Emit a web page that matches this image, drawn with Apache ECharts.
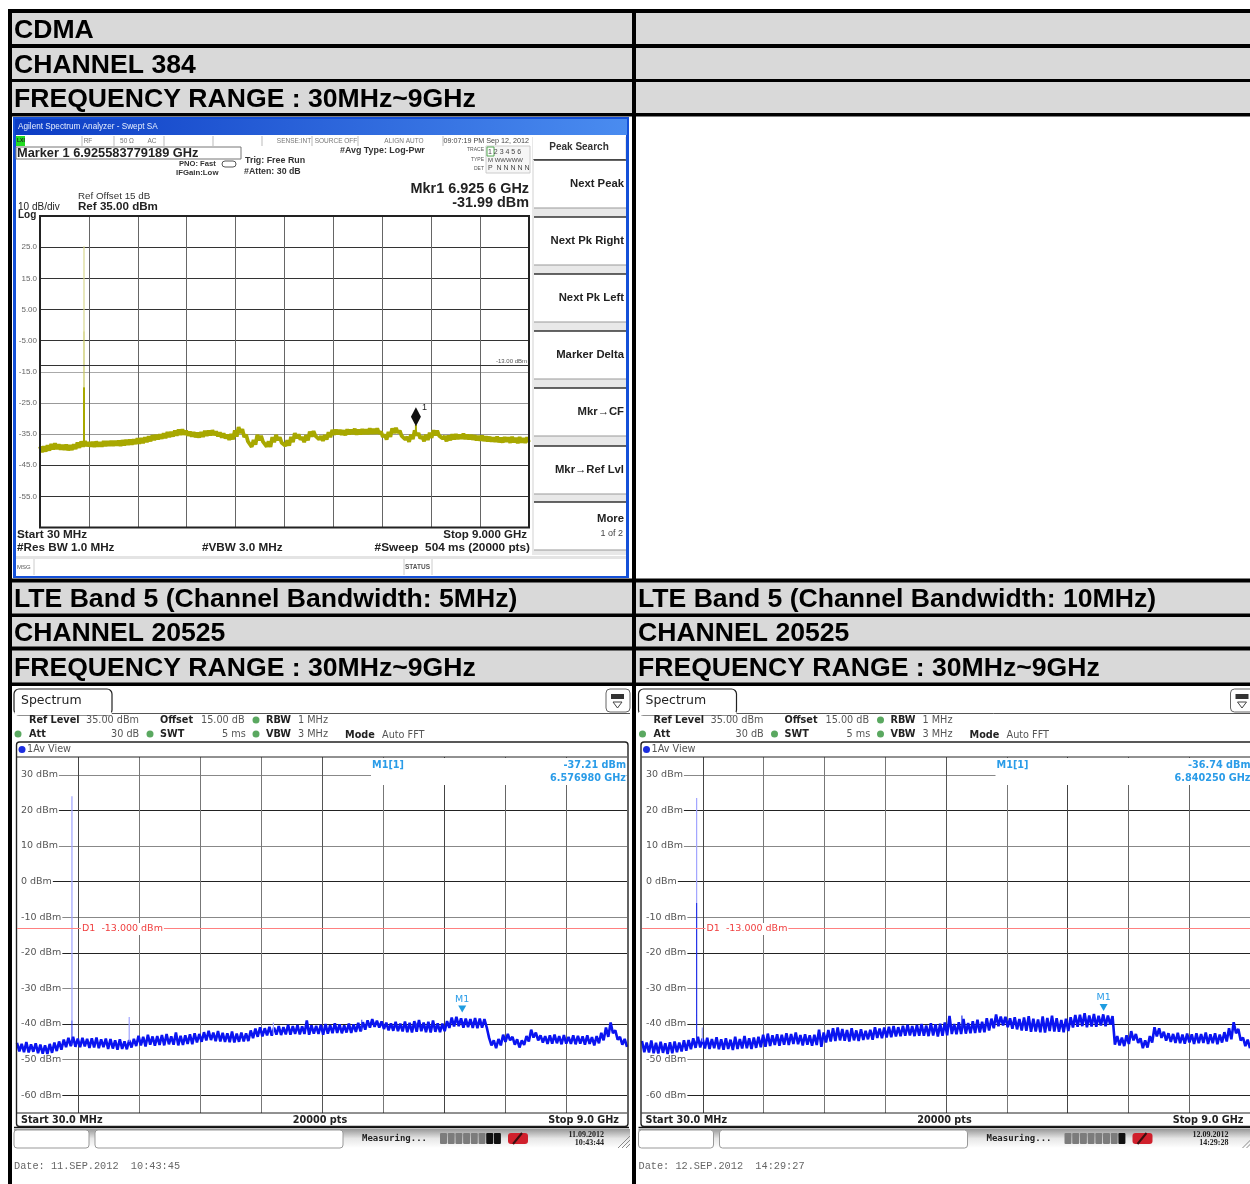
<!DOCTYPE html>
<html><head><meta charset="utf-8">
<style>html,body{margin:0;padding:0;background:#fff;overflow:hidden}#c{width:1250px;height:1184px}</style>
<script src="https://cdn.jsdelivr.net/npm/echarts@6/dist/echarts.min.js"></script>
</head><body><div id="c"></div>
<script>
// ---------- chart data (GHz / dBm) ----------
const sweepStartGHz = 0.03, sweepStopGHz = 9.0;

const cdmaTrace = [
-39.0,-40.8,-38.9,-40.6,-38.6,-40.3,-38.2,-39.9,-38.0,-39.8,-38.3,-40.0,-38.5,-40.1,-38.4,-40.2,-38.6,-40.1,-38.3,-39.8,
-37.7,-39.4,-37.4,-39.0,-37.3,-38.9,-37.6,-39.0,-37.5,-39.1,-37.4,-39.0,-37.6,-39.0,-37.3,-38.9,-37.3,-38.8,-37.2,-38.8,
-37.2,-38.7,-37.1,-38.8,-37.0,-38.6,-36.9,-38.5,-36.8,-38.4,-36.7,-38.2,-36.4,-38.1,-36.3,-37.9,-36.1,-37.6,-35.7,-37.3,
-35.4,-36.9,-35.3,-36.7,-35.1,-36.5,-34.8,-36.3,-34.4,-36.0,-34.3,-35.8,-33.9,-35.5,-33.6,-35.3,-33.5,-35.2,-33.9,-35.5,
-34.2,-35.8,-34.4,-36.0,-34.6,-36.1,-34.4,-35.9,-34.0,-35.6,-33.9,-35.4,-33.8,-35.3,-34.2,-35.7,-34.5,-36.1,-34.8,-36.4,
-35.2,-36.9,-35.0,-36.7,-33.8,-35.8,-32.8,-34.6,-33.4,-36.0,-35.2,-37.4,-37.4,-39.1,-36.9,-38.4,-35.3,-37.0,-35.6,-37.4,
-37.2,-39.0,-37.4,-39.1,-36.0,-37.6,-35.3,-36.9,-36.1,-37.8,-37.2,-38.8,-37.0,-38.7,-35.9,-37.6,-34.7,-36.3,-35.1,-36.8,
-36.0,-37.6,-35.4,-37.0,-34.2,-35.8,-34.1,-35.6,-35.0,-36.7,-35.7,-37.2,-35.3,-36.8,-34.4,-36.0,-33.7,-35.2,-33.6,-35.1,
-33.7,-35.2,-33.8,-35.4,-33.5,-35.1,-33.6,-35.0,-33.3,-35.2,-33.6,-35.1,-33.4,-35.0,-33.5,-35.0,-33.2,-34.9,-33.4,-34.9,
-33.2,-34.9,-34.2,-35.9,-35.2,-36.8,-34.3,-35.9,-33.2,-34.7,-33.0,-34.6,-33.9,-35.6,-35.1,-36.7,-35.9,-37.5,-35.2,-36.6,
-33.8,-35.4,-34.7,-36.4,-35.7,-37.3,-35.2,-36.9,-34.6,-36.2,-33.8,-35.4,-33.9,-35.5,-34.9,-36.4,-35.7,-37.3,-35.5,-37.0,
-35.1,-36.7,-35.0,-36.6,-35.2,-36.5,-34.9,-36.6,-35.2,-36.7,-35.3,-36.8,-35.4,-37.0,-35.6,-37.1,-35.5,-37.2,-35.8,-37.3,
-35.9,-37.4,-36.1,-37.5,-35.8,-37.6,-36.2,-37.7,-36.0,-37.5,-36.1,-37.8,-35.9,-37.6,-36.2,-37.9,-36.0,-37.7,-36.3,-37.8,-36.1,-37.6];

const lte5Trace = [
-45.3,-47.7,-45.6,-47.9,-45.1,-48.0,-45.7,-47.8,-45.4,-48.2,-45.8,-48.3,-46.0,-48.4,-45.6,-48.1,-45.2,-47.6,-44.9,-47.2,
-44.4,-46.5,-43.9,-46.2,-43.6,-46.4,-44.1,-46.5,-43.9,-46.3,-44.2,-46.7,-44.0,-46.6,-43.8,-46.8,-44.3,-46.5,-44.1,-47.0,
-44.2,-46.9,-44.6,-47.2,-44.3,-47.0,-44.9,-47.1,-44.5,-46.6,-44.2,-46.2,-43.3,-46.0,-43.6,-46.3,-43.0,-45.8,-43.5,-46.1,
-43.4,-45.9,-43.1,-46.0,-42.8,-45.7,-43.5,-45.8,-42.4,-46.0,-43.3,-45.9,-43.2,-45.6,-42.9,-45.7,-42.6,-45.2,-42.8,-45.0,
-42.3,-44.6,-41.9,-44.5,-42.4,-44.8,-42.0,-44.9,-42.5,-45.0,-42.6,-45.1,-42.1,-45.2,-42.7,-45.0,-42.4,-44.9,-42.6,-44.8,
-41.8,-44.0,-41.3,-43.6,-40.9,-43.5,-41.2,-43.2,-40.8,-43.3,-41.0,-43.0,-40.6,-43.1,-40.9,-42.9,-40.2,-43.0,-40.6,-42.8,
-40.3,-42.9,-40.7,-42.8,-39.0,-43.0,-40.4,-42.7,-40.5,-42.8,-40.2,-43.0,-40.0,-42.7,-40.3,-42.6,-39.8,-42.5,-40.1,-42.6,
-40.4,-42.4,-39.9,-42.5,-40.1,-42.2,-39.7,-42.1,-39.5,-41.6,-39.0,-41.0,-38.6,-40.8,-39.1,-41.0,-39.3,-41.4,-39.6,-41.8,
-39.8,-41.9,-39.4,-42.0,-39.9,-42.1,-39.3,-42.3,-39.7,-42.4,-39.2,-42.2,-38.9,-42.0,-39.6,-42.3,-39.4,-42.4,-39.0,-42.2,
-39.8,-42.3,-39.9,-42.0,-39.2,-41.1,-38.2,-40.7,-38.0,-40.6,-38.4,-41.0,-38.5,-40.9,-38.6,-41.1,-38.3,-41.2,-38.5,-41.0,
-38.6,-41.0,-43.9,-46.0,-44.6,-46.8,-44.2,-46.0,-43.0,-45.0,-42.8,-44.6,-43.6,-45.8,-44.3,-46.6,-44.6,-45.9,-43.4,-44.9,
-41.6,-43.8,-42.4,-44.6,-43.2,-45.2,-43.4,-45.6,-43.2,-45.5,-43.0,-45.4,-43.4,-45.7,-43.1,-45.5,-43.6,-45.6,-43.2,-45.7,
-43.3,-45.5,-43.5,-45.8,-43.2,-45.6,-43.7,-46.0,-43.4,-45.4,-42.5,-44.6,-41.0,-43.6,-39.6,-42.6,-41.8,-44.4,-43.6,-45.8,-44.2,-46.4];

const lte10Trace = [
-44.8,-47.9,-45.2,-48.0,-44.6,-48.2,-45.3,-48.3,-45.0,-48.1,-45.4,-48.4,-45.1,-48.2,-44.9,-47.9,-45.2,-47.7,-44.6,-47.5,
-44.5,-47.1,-44.0,-46.7,-43.6,-46.6,-44.1,-46.9,-43.9,-47.0,-44.2,-46.8,-43.7,-47.1,-44.3,-47.2,-44.0,-47.0,-44.4,-47.3,
-43.6,-47.0,-44.2,-46.9,-43.4,-46.8,-44.0,-47.0,-43.8,-46.7,-43.6,-46.5,-43.0,-46.4,-42.7,-46.2,-43.2,-45.9,-42.9,-46.1,
-43.0,-45.8,-42.6,-45.9,-42.8,-45.6,-42.4,-45.7,-43.1,-46.0,-42.9,-45.8,-43.2,-46.1,-43.0,-45.9,-41.6,-46.4,-42.4,-45.2,
-41.7,-44.9,-41.2,-44.8,-41.0,-44.6,-41.4,-44.7,-41.7,-44.9,-41.2,-44.6,-41.8,-44.8,-41.5,-44.5,-41.9,-44.3,-41.6,-44.4,
-40.9,-43.9,-41.3,-44.0,-41.0,-43.8,-40.8,-43.7,-40.6,-43.5,-40.9,-43.4,-40.5,-43.3,-40.2,-43.2,-40.6,-43.4,-40.3,-43.3,
-40.0,-43.3,-40.4,-43.4,-39.8,-43.2,-40.1,-43.5,-39.9,-43.3,-39.6,-43.2,-37.7,-42.8,-40.0,-42.9,-39.5,-42.8,-38.6,-42.7,
-39.7,-42.6,-39.2,-42.5,-38.8,-42.4,-39.4,-42.3,-38.4,-41.8,-38.5,-41.2,-37.3,-40.6,-37.9,-40.4,-38.0,-40.9,-38.4,-41.3,
-38.1,-41.5,-38.6,-41.8,-38.2,-41.9,-37.8,-42.2,-38.5,-42.1,-38.7,-42.3,-37.9,-42.4,-38.3,-42.0,-37.7,-42.1,-38.4,-42.2,
-38.9,-42.3,-38.5,-42.0,-38.1,-41.0,-37.5,-40.8,-37.4,-40.6,-37.0,-40.9,-37.6,-40.7,-37.2,-40.8,-37.7,-40.4,-37.3,-40.6,
-37.6,-40.2,-37.8,-45.8,-43.4,-46.0,-43.8,-46.2,-43.2,-45.6,-42.0,-44.6,-42.8,-45.3,-44.0,-46.8,-44.6,-46.6,-43.4,-45.2,
-40.9,-43.5,-41.2,-43.9,-42.2,-44.7,-42.6,-45.0,-42.8,-45.3,-42.5,-45.4,-43.0,-45.5,-42.7,-45.2,-42.9,-45.6,-42.6,-45.4,
-42.8,-45.3,-42.4,-45.6,-42.9,-45.4,-42.6,-45.7,-43.0,-45.2,-42.3,-44.9,-41.2,-44.3,-39.5,-42.6,-41.4,-44.6,-43.8,-46.2,-44.4,-46.8];

// spikes: [frequency, low, high]
const cdmaCarrierPale  = [[0.837, -2, 25.3]];
const cdmaCarrierMid   = [[0.837, -20, -2]];
const cdmaCarrierBase  = [[0.837, -38, -20], [6.9256, -35, -31.99]];
const lte5CarrierPale  = [[0.838, -39, 24], [1.68, -45, -38], [3.8, -43, -39.6]];
const lte5CarrierBase  = [[0.838, -46, -39], [5.1, -42, -38.8], [5.9, -41, -39.6]];
const lte10CarrierPale = [[0.836, -6, 23.5], [0.92, -45, -41]];
const lte10CarrierBase = [[0.836, -45, -6], [4.75, -41, -37.6]];

const cdmaMarker  = [6.9256, -31.99];
const lte5Marker  = [6.57698, -37.21];
const lte10Marker = [6.84025, -36.74];
const displayLine = -13;

const freqDivisions = [0.927,1.824,2.721,3.618,4.515,5.412,6.309,7.206,8.103];
const cdmaLevels    = [-55,-45,-35,-25,-15,-5,5,15,25];
const cdmaLevelText = ['-55.0','-45.0','-35.0','-25.0','-15.0','-5.00','5.00','15.0','25.0'];
const lteLevels     = [-60,-50,-40,-30,-20,-10,0,10,20,30];

const tableRows = {
  top: ['CDMA','CHANNEL 384','FREQUENCY RANGE : 30MHz~9GHz'],
  left: ['LTE Band 5 (Channel Bandwidth: 5MHz)','CHANNEL 20525','FREQUENCY RANGE : 30MHz~9GHz'],
  right: ['LTE Band 5 (Channel Bandwidth: 10MHz)','CHANNEL 20525','FREQUENCY RANGE : 30MHz~9GHz']
};
const softKeys = ['Next Peak','Next Pk Right','Next Pk Left','Marker Delta','Mkr\u2192CF','Mkr\u2192Ref Lvl','More'];

// ---------- drawing helpers ----------
const sweep = v => v.map((y,i)=>[sweepStartGHz+i*(sweepStopGHz-sweepStartGHz)/(v.length-1), y]);
const spikes = list => { const d=[]; list.forEach(s=>{d.push([s[0],s[1]],[s[0],s[2]],[s[0],NaN]);}); return d; };
const g = [];
const R = (x,y,w,h,fill,stroke,lw,z,r) => g.push({type:'rect',z:z===undefined?-10:z,silent:true,shape:{x,y,width:w,height:h,r:r||0},style:{fill:fill||'transparent',stroke:stroke||null,lineWidth:lw||1}});
const L = (x1,y1,x2,y2,c,lw,z) => g.push({type:'line',z:z===undefined?5:z,silent:true,shape:{x1,y1,x2,y2},style:{stroke:c,lineWidth:lw||1}});
const T = (x,y,text,font,fill,align,z,extra) => g.push({type:'text',z:z===undefined?10:z,silent:true,style:Object.assign({x,y,text,font,fill:fill||'#000',textAlign:align||'left',textVerticalAlign:'middle',verticalAlign:'middle'},extra||{})});
const C = (x,y,r,fill,z) => g.push({type:'circle',z:z===undefined?10:z,silent:true,shape:{cx:x,cy:y,r},style:{fill}});
const arial='"Liberation Sans",Arial,sans-serif', dv='"DejaVu Sans",sans-serif', mono='"DejaVu Sans Mono",monospace';

// ---------- table ----------
R(8,9,1242,1175,'#000');
const grayRowsTop=[[13,31],[48,31],[82,31]], grayRowsMid=[[582.5,31],[617,29.5],[650.5,32]];
grayRowsTop.concat(grayRowsMid).forEach(r=>{R(12,r[0],620,r[1],'#d9d9d9');R(636,r[0],614,r[1],'#d9d9d9');});
R(12,116.5,620,462,'#fff');R(636,116.5,614,462,'#fff');
R(12,686,620,498,'#fff');R(636,686,614,498,'#fff');
const hFont='bold 26.6px '+arial;
[30.5,65.5,99.5].forEach((y,i)=>T(14,y,tableRows.top[i],hFont,'#000'));
[599.5,633.5,668.5].forEach((y,i)=>{T(14,y,tableRows.left[i],hFont,'#000');T(638,y,tableRows.right[i],hFont,'#000');});

// ---------- Agilent panel chrome ----------
R(13,117,616,461,'#1450d8');
g.push({type:'rect',z:-9,silent:true,shape:{x:15,y:119,width:612,height:16},style:{fill:{type:'linear',x:0,y:0,x2:1,y2:0,colorStops:[{offset:0,color:'#0c3cc4'},{offset:1,color:'#4a8cf0'}]}}});
R(16,135,610,441,'#fff',null,1,-9);
const af=(s,b)=>(b?'bold ':'')+s+'px '+arial;
T(18,127,'Agilent Spectrum Analyzer - Swept SA',af(8.2),'#e8f0ff');
R(16,136,9,10,'#22dd22',null,1,-8);T(17,141,'LXI',af(5,1),'#222');
[['RF',88],['50 \u03a9',127],['AC',152],['SENSE:INT',294],['SOURCE OFF',336],['ALIGN AUTO',404]].forEach(a=>T(a[1],141,a[0],af(6.5),'#777','center'));
[82,114,164,213,262,312,358,443].forEach(x=>L(x,136,x,146,'#bbb',1,-8));
T(529,141,'09:07:19 PM Sep 12, 2012',af(7.2),'#444','right');
R(16,147,225,12,'#fff','#777',1,-8);
T(17,153,'Marker 1 6.925583779189 GHz',af(12.8,1),'#222');
T(179,164,'PNO: Fast',af(7.6,1),'#333');T(176,173,'IFGain:Low',af(7.8,1),'#333');
R(222,161,14,6,'#fff','#555',1,-8,3);
T(245,161,'Trig: Free Run',af(8.9,1),'#333');T(244,172,'#Atten: 30 dB',af(8.8,1),'#333');
T(340,151,'#Avg Type: Log-Pwr',af(8.9,1),'#333');
T(484,150,'TRACE',af(5),'#555','right');T(484,160,'TYPE',af(5),'#555','right');T(484,169,'DET',af(5),'#555','right');
R(486,146,44,27,'#f6f6f6','#ccc',1,-8);R(487,147,7,9,'#fff','#5a5',1,-7);
T(488,152,'1 2 3 4 5 6',af(7),'#444',null,10,{});
T(488,160,'M WWWWW',af(6),'#444');T(488,168,'P  N N N N N',af(7),'#444');
T(529,189,'Mkr1 6.925 6 GHz',af(14.4,1),'#222','right');T(529,203,'-31.99 dBm',af(14.4,1),'#222','right');
T(78,196,'Ref Offset 15 dB',af(9.8),'#333');T(78,207,'Ref 35.00 dBm',af(11.6,1),'#222');
T(18,207,'10 dB/div',af(10),'#222');T(18,215,'Log',af(10,1),'#222');
T(17,535,'Start 30 MHz',af(11.7,1),'#222');T(527,535,'Stop 9.000 GHz',af(11.5,1),'#222','right');
T(17,548,'#Res BW 1.0 MHz',af(11.7,1),'#222');T(202,548,'#VBW 3.0 MHz',af(11.7,1),'#222');
T(530,548,'#Sweep  504 ms (20000 pts)',af(11.8,1),'#222','right');
R(16,556,610,3,'#e4e4e4',null,1,-8);
[34,404,432].forEach(x=>L(x,559,x,575,'#ccc',1,-8));
T(17,567,'MSG',af(6),'#555');T(405,567,'STATUS',af(6.5,1),'#555');
R(40,216,489,311.5,null,'#222',2,6);
// soft keys
R(532,137,94,418,'#e8e8e8',null,1,-8);
R(533,137,92,22,'#fff',null,1,-7);L(533,159.5,625,159.5,'#888',1,-6);
T(579,147,'Peak Search',af(10,1),'#333','center');
const keyTops=[160,217,274,331,388,446,502];
keyTops.forEach((y,i)=>{R(534,y,92,48,'#fff',null,1,-7);L(534,y,626,y,'#333',1.4,-6);L(534,y+48,626,y+48,'#999',1.2,-6);
  T(624,y+(i===6?17:24),softKeys[i],af(11.3,1),'#222','right');});
T(623,534,'1 of 2',af(9),'#444','right');
T(527,361,'-13.00 dBm',af(6),'#555','right',10,{backgroundColor:'#fff'});

// ---------- R&S panels chrome ----------
function rsChrome(dx,p){
  R(14+dx,689,98,26,'#fff','#222',1.2,-8,5);
  L(112+dx,713.5,630+dx,713.5,'#555',1,-7);
  R(14.5+dx,712,97,3,'#fff',null,1,-7);
  T(21+dx,701,'Spectrum',"12.5px "+dv,'#222');
  R(606+dx,689,24,23,'#fff','#666',1,-8,4);
  R(611+dx,694,13,5,'#333',null,1,-7);
  g.push({type:'polygon',z:-7,silent:true,shape:{points:[[613+dx,702],[622+dx,702],[617.5+dx,708]]},style:{fill:'#fff',stroke:'#444'}});
  const f='9.7px '+dv,b='bold 9.7px '+dv,c1='#555',c2='#222';
  T(29+dx,720.5,'Ref Level',b,c2);T(86+dx,720.5,'35.00 dBm',f,c1);T(160+dx,720.5,'Offset',b,c2);T(201+dx,720.5,'15.00 dB',f,c1);
  C(256+dx,720,3.5,'#5aa860');T(266+dx,720.5,'RBW',b,c2);T(298+dx,720.5,'1 MHz',f,c1);
  C(18+dx,734,3.5,'#5aa860');T(29+dx,734.5,'Att',b,c2);T(111+dx,734.5,'30 dB',f,c1);C(150+dx,734,3.5,'#5aa860');T(160+dx,734.5,'SWT',b,c2);T(222+dx,734.5,'5 ms',f,c1);
  C(256+dx,734,3.5,'#5aa860');T(266+dx,734.5,'VBW',b,c2);T(298+dx,734.5,'3 MHz',f,c1);T(345+dx,735,'Mode',b,c2);T(382+dx,735,'Auto FFT',f,c1);
  R(16.5+dx,742,611.5,384.5,null,'#222',1.4,4,3);
  L(14+dx,1127.5,629+dx,1127.5,'#111',1.5,4);
  C(22+dx,749.5,3.5,'#1c2ee0');T(27+dx,749.5,'1Av View',f,'#555');
  L(17+dx,757,627+dx,757,'#222',1,4);L(17+dx,1113,627+dx,1113,'#222',1,4);
  // white read-out box
  R(371+dx,758,255.5,27,'#fff',null,1,1);
  T(372+dx,765.5,'M1[1]','bold 9.7px '+dv,'#2a9ce8');
  T(626+dx,765.5,p.lvl,'bold 9.7px '+dv,'#2a9ce8','right');
  T(626+dx,778.5,p.frq,'bold 9.7px '+dv,'#2a9ce8','right');
  // display line label
  T(81+dx,929,'D1  -13.000 dBm','9.5px '+dv,'#f04040','left',10,{backgroundColor:'#fff',padding:[1,1,1,1]});
  // footer
  T(21+dx,1120,'Start 30.0 MHz','bold 9.7px '+dv,'#222');T(320+dx,1120,'20000 pts','bold 9.7px '+dv,'#222','center');T(619+dx,1120,'Stop 9.0 GHz','bold 9.7px '+dv,'#222','right');
  // status bar
  g.push({type:'rect',z:-8,silent:true,shape:{x:14+dx,y:1129,width:616,height:19},style:{fill:{type:'linear',x:0,y:0,x2:0,y2:1,colorStops:[{offset:0,color:'#999'},{offset:.5,color:'#e6e6e6'},{offset:1,color:'#fff'}]}}});
  R(14+dx,1130,75,18,'#fff','#999',1,-7,3);R(95+dx,1130,248,18,'#fff','#999',1,-7,3);
  T(362+dx,1138.5,'Measuring...','bold 9px '+mono,'#222');
  for(let i=0;i<8;i++){R(440+dx+i*7.7,1133,7,11,i>=p.dark?'#111':'#7c7c7c',null,1,-6,1);}
  R(508+dx,1133,20,11,'#d0202c',null,1,-6,3);L(513+dx,1144,522+dx,1133,'#3a1010',2,6);
  T(604+dx,1135,p.d1,'bold 8px "Liberation Serif",serif','#222','right');T(604+dx,1143,p.d2,'bold 8px "Liberation Serif",serif','#222','right');
  [0,4,8].forEach(o=>L(618+o+dx,1148,630+dx,1136+o,'#888',1,-6));
  T(14+dx,1166,p.date,'10.25px "Liberation Mono",monospace','#666');
}
rsChrome(0,{lvl:'-37.21 dBm',frq:'6.576980 GHz',d1:'11.09.2012',d2:'10:43:44',date:'Date: 11.SEP.2012  10:43:45',dark:6});
rsChrome(624.5,{lvl:'-36.74 dBm',frq:'6.840250 GHz',d1:'12.09.2012',d2:'14:29:28',date:'Date: 12.SEP.2012  14:29:27',dark:7});

// ---------- axes / series ----------
const grids=[{left:40,top:216,width:489,height:311.5},{left:17,top:757,width:610,height:356},{left:642,top:757,width:610,height:356}];
const xAxes=[0,1,2].map(i=>({type:'value',gridIndex:i,min:sweepStartGHz,max:sweepStopGHz,axisLine:{show:false},axisLabel:{show:false},
  axisTick:{show:false,customValues:freqDivisions},splitLine:{show:true,lineStyle:{color:i?['#444','#777','#777','#777','#555','#777','#444','#666','#666']:'#666',width:1}}}));
const yAxes=[
 {type:'value',gridIndex:0,min:-65,max:35,axisLine:{show:false},axisTick:{show:false,customValues:cdmaLevels},
  axisLabel:{customValues:cdmaLevels,margin:3,fontSize:8,color:'#666',fontFamily:'Liberation Sans',formatter:v=>cdmaLevelText[cdmaLevels.indexOf(v)]},
  splitLine:{show:true,lineStyle:{width:1,color:['#333','#333','#999','#999','#aaa','#333','#333','#333','#333']}}},
 ...[1,2].map(i=>({type:'value',gridIndex:i,min:-65,max:35,axisLine:{show:false},axisTick:{show:false,customValues:lteLevels},
  axisLabel:{customValues:lteLevels,inside:true,margin:0,fontSize:9.5,color:'#555',fontFamily:'DejaVu Sans',backgroundColor:'#fff',padding:[1,1,1,4],formatter:v=>v+' dBm'},
  splitLine:{show:true,lineStyle:{width:1,color:['#222','#888']}}}))
];
const line=(i,data,color,w,extra)=>Object.assign({type:'line',xAxisIndex:i,yAxisIndex:i,data,showSymbol:false,symbol:'none',connectNulls:false,sampling:false,animation:false,silent:true,lineStyle:{color,width:w,join:'bevel'}},extra||{});
const dispLine=(c)=>({markLine:{silent:true,symbol:'none',animation:false,label:{show:false},lineStyle:{color:c,width:1,type:'solid'},data:[{yAxis:displayLine}]}});
const rsMarker=(m,offset)=>({markPoint:{silent:true,animation:false,data:[{coord:m,symbol:'triangle',symbolRotate:180,symbolSize:[8,7],symbolOffset:[0,offset],itemStyle:{color:'#1f9ce0'},
   label:{show:true,position:'top',distance:1,formatter:'M1',color:'#2a9ce8',fontSize:9.5,fontFamily:'DejaVu Sans'}}]}});
const series=[
  line(0,sweep(cdmaTrace),'#a8a800',3.8,{markLine:dispLine('#333').markLine,
    markPoint:{silent:true,animation:false,data:[{coord:cdmaMarker,symbol:'diamond',symbolSize:[10,19],symbolOffset:[0,-8],itemStyle:{color:'#111'},
      label:{show:true,position:'right',distance:1,offset:[0,-9],formatter:'1',color:'#222',fontSize:9,fontFamily:'Liberation Sans'}}]}}),
  line(0,spikes(cdmaCarrierPale),'#d8d890',1.2),
  line(0,spikes(cdmaCarrierMid),'#c6c65c',1.2),
  line(0,spikes(cdmaCarrierBase),'#a8a800',2),
  line(1,sweep(lte5Trace),'#0a14f0',2.6,Object.assign({},dispLine('#ff8080'),rsMarker(lte5Marker,-5))),
  line(1,spikes(lte5CarrierPale),'#a0a4ff',1.2),
  line(1,spikes(lte5CarrierBase),'#2a34f0',1),
  line(2,sweep(lte10Trace),'#0a14f0',2.6,Object.assign({},dispLine('#ff8080'),rsMarker(lte10Marker,-5))),
  line(2,spikes(lte10CarrierPale),'#a0a4ff',1.2),
  line(2,spikes(lte10CarrierBase),'#2230e8',1.2)
];
const chart=echarts.init(document.getElementById('c'),null,{renderer:'canvas',width:1250,height:1184});
chart.setOption({animation:false,backgroundColor:'#fff',grid:grids,xAxis:xAxes,yAxis:yAxes,series,graphic:{elements:g}});
</script></body></html>
